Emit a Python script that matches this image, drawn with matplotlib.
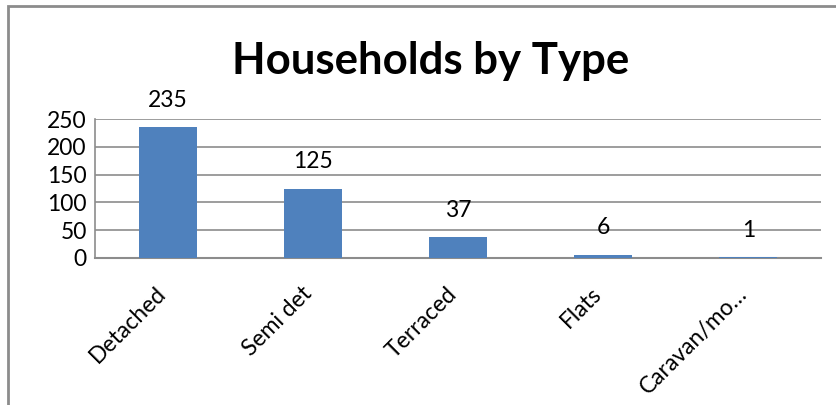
import matplotlib.pyplot as plt
import matplotlib.transforms as mtransforms
from matplotlib.patches import Rectangle

# data
categories = ["Detached", "Semi det", "Terraced", "Flats", "Caravan/mo…"]
households = [235, 125, 37, 6, 1]

plt.rcParams['font.family'] = ['Lato', 'DejaVu Sans']

fig = plt.figure(figsize=(8.36, 4.05), dpi=100)
ax = fig.add_axes([95 / 836, 1 - 258 / 405, (821 - 95) / 836, (258 - 119) / 405])

# chart border (cut off at right and bottom)
fig.patches.append(Rectangle((8 / 836, -0.1), 1.2, 1 - 6 / 405 + 0.1,
                             transform=fig.transFigure, fill=False,
                             edgecolor='#8c8c8c', linewidth=2))

x = range(len(categories))
bars = ax.bar(x, households, width=0.4, color='#4f81bd', zorder=3)

for xi, v in zip(x, households):
    ax.annotate(str(v), (xi, v), xytext=(0, 12), textcoords='offset points',
                ha='center', va='bottom', fontsize=16.5)

ax.set_xlim(-0.5, len(categories) - 0.5)
ax.set_ylim(0, 250)
ax.set_yticks(range(0, 251, 50))
ax.tick_params(axis='y', labelsize=16.5, length=0, pad=6)
ax.tick_params(axis='x', length=0, pad=18)
ax.set_xticks(list(x))
ax.set_xticklabels(categories, rotation=45, ha='right', rotation_mode='anchor',
                   fontsize=16.5)
# nudge the rotated labels left so they end under the bar centre
shift = mtransforms.ScaledTranslation(-12 / 100, 0, fig.dpi_scale_trans)
for lbl in ax.get_xticklabels():
    lbl.set_transform(lbl.get_transform() + shift)

ax.grid(axis='y', color='#8c8c8c', linewidth=1.2, zorder=0)
for s in ['top', 'right']:
    ax.spines[s].set_visible(False)
ax.spines['left'].set_color('#8c8c8c')
ax.spines['bottom'].set_color('#8c8c8c')
ax.spines['left'].set_linewidth(1.2)
ax.spines['bottom'].set_linewidth(1.5)

fig.text(431 / 836, 1 - 61 / 405, "Households by Type", ha='center', va='center',
         fontsize=31.5, fontweight='bold')

fig.savefig("out.png", dpi=100)
